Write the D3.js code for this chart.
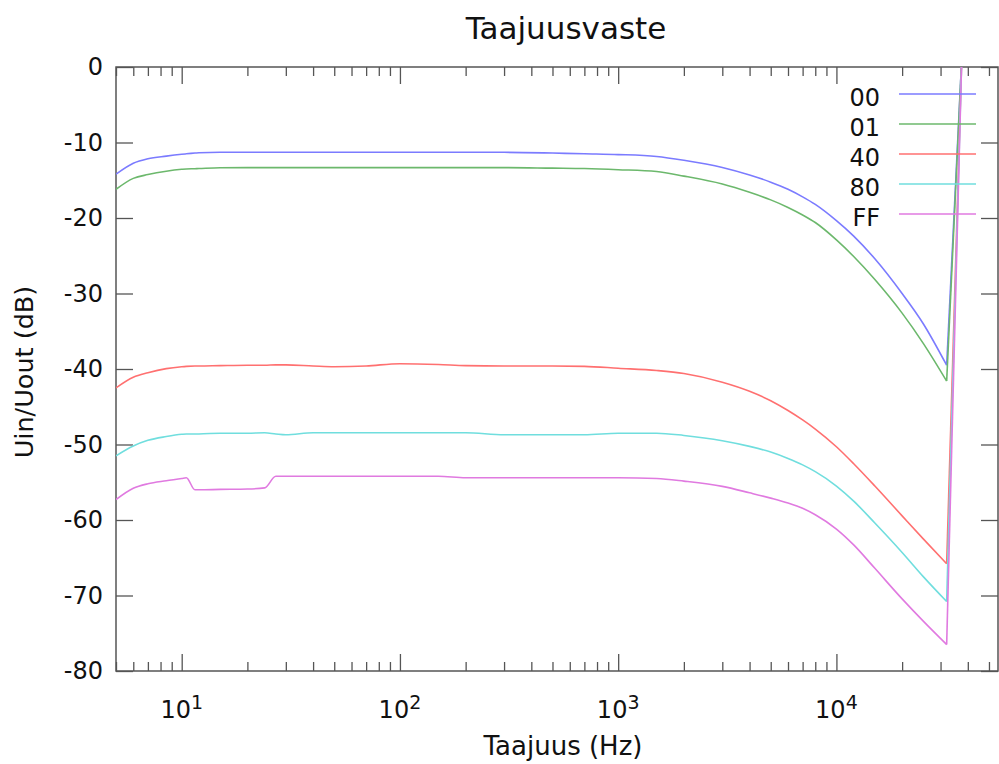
<!DOCTYPE html>
<html>
<head>
<meta charset="utf-8">
<script src="https://cdn.jsdelivr.net/npm/d3@7/dist/d3.min.js"></script>
<style>
  html, body { margin: 0; padding: 0; background: #fff; }
  svg { display: block; }
  text { font-family: "DejaVu Sans", Verdana, sans-serif; fill: #111; }
</style>
</head>
<body>
<svg id="chart" width="999" height="764"></svg>
<script>
// ---- data ----
const freqs = [5, 6, 7, 8.5, 10, 10.5, 11.5, 12, 15, 20, 24, 27, 30, 40, 50, 70, 100, 150, 200, 300, 500, 700,
  1000, 1500, 2000, 3000, 4000, 5000, 6000, 7000, 8000, 10000, 12000, 15000, 20000, 25000, 32000, 37500];
const series00 = [-14.2, -12.75, -12.15, -11.8, -11.56, -11.5, -11.4, -11.35, -11.3, -11.3, -11.3, -11.3, -11.3, -11.3, -11.3, -11.3, -11.3, -11.3, -11.3, -11.3, -11.4, -11.5,
  -11.6, -11.85, -12.35, -13.3, -14.3, -15.25, -16.2, -17.2, -18.2, -20.35, -22.4, -25.4, -30.0, -34.0, -39.5, 1];
const series01 = [-16.2, -14.75, -14.25, -13.8, -13.55, -13.5, -13.47, -13.45, -13.35, -13.33, -13.33, -13.33, -13.33, -13.33, -13.33, -13.33, -13.33, -13.33, -13.33, -13.33, -13.4, -13.45,
  -13.6, -13.85, -14.45, -15.5, -16.6, -17.6, -18.6, -19.6, -20.6, -22.9, -25.1, -28.15, -32.6, -36.6, -41.6, 1];
const series40 = [-42.5, -41.1, -40.5, -39.95, -39.7, -39.65, -39.6, -39.6, -39.55, -39.5, -39.5, -39.45, -39.45, -39.6, -39.7, -39.6, -39.3, -39.4, -39.55, -39.6, -39.6, -39.65,
  -39.9, -40.2, -40.6, -41.75, -42.95, -44.2, -45.5, -46.75, -47.95, -50.3, -52.55, -55.5, -59.45, -62.5, -65.8, 1];
const series80 = [-51.5, -50.2, -49.45, -48.95, -48.65, -48.6, -48.6, -48.6, -48.5, -48.5, -48.45, -48.6, -48.7, -48.45, -48.45, -48.45, -48.45, -48.45, -48.45, -48.7, -48.7, -48.7,
  -48.5, -48.5, -48.8, -49.5, -50.25, -51.0, -51.85, -52.7, -53.6, -55.5, -57.5, -60.4, -64.3, -67.5, -70.8, 1];
const seriesFF = [-57.3, -55.8, -55.2, -54.8, -54.5, -54.4, -56.0, -56.0, -55.95, -55.9, -55.75, -54.2, -54.2, -54.2, -54.2, -54.2, -54.2, -54.2, -54.4, -54.4, -54.4, -54.4,
  -54.4, -54.5, -54.85, -55.55, -56.4, -57.1, -57.75, -58.45, -59.3, -61.2, -63.3, -66.4, -70.45, -73.4, -76.5, 1];
const seriesNames = ["00", "01", "40", "80", "FF"];
const seriesColors = ["#7b7bff", "#6cb86c", "#ff7070", "#70dede", "#e07ae0"];
const yTicks = [-80, -70, -60, -50, -40, -30, -20, -10, 0];
const xMajor = [10, 100, 1000, 10000];
const xExponents = ["1", "2", "3", "4"];
const titleText = "Taajuusvaste";
const xLabelText = "Taajuus (Hz)";
const yLabelText = "Uin/Uout (dB)";

// ---- layout ----
const svg = d3.select("#chart");
const L = 116, R = 998, T = 67, B = 671;
const x = d3.scaleLog().domain([5, 55000]).range([L, R]);
const y = d3.scaleLinear().domain([-80, 0]).range([B, T]);

const xMinor = [];
[1, 10, 100, 1000, 10000].forEach(dec => {
  for (let k = 2; k <= 9; k++) {
    const v = dec * k;
    if (v >= 5 && v <= 55000) xMinor.push(v);
  }
});

const axisColor = "#555";
function styleAxis(g) {
  g.select(".domain").remove();
  g.selectAll(".tick line").attr("stroke", axisColor).attr("stroke-width", 1.3);
  g.selectAll(".tick text").attr("font-size", 24).attr("fill", "#111");
}

svg.append("defs").append("clipPath").attr("id", "clip")
  .append("rect").attr("x", L).attr("y", T).attr("width", R - L).attr("height", B - T);

// axes
svg.append("g").attr("transform", `translate(${L},0)`)
  .call(d3.axisLeft(y).tickValues(yTicks).tickSize(-17).tickPadding(13).tickFormat(d => String(d)))
  .call(styleAxis);
svg.append("g").attr("transform", `translate(${R},0)`)
  .call(d3.axisRight(y).tickValues(yTicks).tickSize(-17).tickFormat(""))
  .call(styleAxis);
svg.append("g").attr("transform", `translate(0,${B})`)
  .call(d3.axisBottom(x).tickValues(xMajor).tickSize(-17).tickFormat(""))
  .call(styleAxis);
svg.append("g").attr("transform", `translate(0,${B})`)
  .call(d3.axisBottom(x).tickValues(xMinor).tickSize(-9).tickFormat(""))
  .call(styleAxis);
svg.append("g").attr("transform", `translate(0,${T})`)
  .call(d3.axisTop(x).tickValues(xMajor).tickSize(-17).tickFormat(""))
  .call(styleAxis);
svg.append("g").attr("transform", `translate(0,${T})`)
  .call(d3.axisTop(x).tickValues(xMinor).tickSize(-9).tickFormat(""))
  .call(styleAxis);

// x tick labels with superscripts
const xl = svg.append("g").selectAll("text").data(xMajor).join("text")
  .attr("x", d => x(d)).attr("y", 718).attr("text-anchor", "middle").attr("font-size", 24);
xl.append("tspan").text("10");
xl.append("tspan").attr("dy", -9).attr("font-size", 19).text((d, i) => xExponents[i]);

// border
svg.append("rect").attr("x", L).attr("y", T).attr("width", R - L).attr("height", B - T)
  .attr("fill", "none").attr("stroke", axisColor).attr("stroke-width", 1.5);

// lines: smooth up to the notch, straight from the notch upward
const allSeries = [series00, series01, series40, series80, seriesFF];
const dipIndex = freqs.indexOf(32000);
const smoothLine = d3.line().x(d => x(d[0])).y(d => y(d[1])).curve(d3.curveMonotoneX);
const straightLine = d3.line().x(d => x(d[0])).y(d => y(d[1]));
const lg0 = svg.append("g").attr("clip-path", "url(#clip)");
allSeries.forEach((s, i) => {
  const pts = s.map((v, j) => [freqs[j], v]);
  lg0.append("path").attr("d", smoothLine(pts.slice(0, dipIndex + 1)))
    .attr("fill", "none").attr("stroke", seriesColors[i]).attr("stroke-width", 1.6);
  lg0.append("path").attr("d", straightLine(pts.slice(dipIndex)))
    .attr("fill", "none").attr("stroke", seriesColors[i]).attr("stroke-width", 1.6);
});

// legend
const lg = svg.append("g").selectAll("g").data(seriesNames).join("g")
  .attr("transform", (d, i) => `translate(0,${i * 30})`);
lg.append("text").attr("x", 880).attr("y", 106).attr("text-anchor", "end").attr("font-size", 24).text(d => d);
lg.append("line").attr("x1", 899).attr("x2", 976).attr("y1", 94).attr("y2", 94)
  .attr("stroke", (d, i) => seriesColors[i]).attr("stroke-width", 1.6);

// titles
svg.append("text").attr("x", 566).attr("y", 39).attr("text-anchor", "middle").attr("font-size", 31).text(titleText);
svg.append("text").attr("x", 563).attr("y", 755).attr("text-anchor", "middle").attr("font-size", 26).text(xLabelText);
svg.append("text").attr("transform", "translate(33,372) rotate(-90)").attr("text-anchor", "middle").attr("font-size", 25.5).text(yLabelText);
</script>
</body>
</html>
